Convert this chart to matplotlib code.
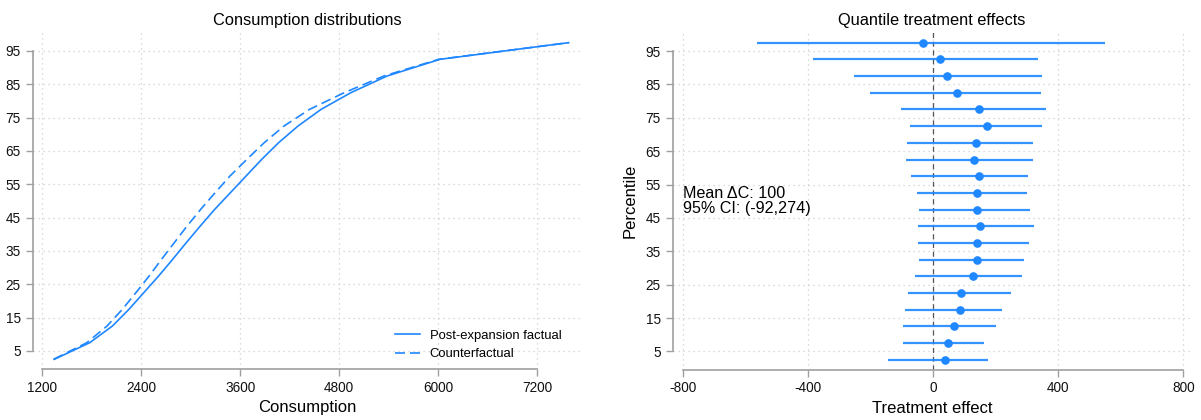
import numpy as np
import matplotlib
matplotlib.use('Agg')
import matplotlib.pyplot as plt

plt.rcParams['font.family'] = ['Liberation Sans', 'DejaVu Sans']
plt.rcParams['axes.unicode_minus'] = False

# percentiles (quantile levels)
pctiles = [2.5, 7.5, 12.5, 17.5, 22.5, 27.5, 32.5, 37.5, 42.5, 47.5,
           52.5, 57.5, 62.5, 67.5, 72.5, 77.5, 82.5, 87.5, 92.5, 97.5]

# left panel: consumption quantiles
factual = [1345, 1775, 2050, 2250, 2430, 2610, 2780, 2945, 3115, 3290,
           3480, 3670, 3860, 4065, 4300, 4580, 4940, 5380, 6020, 7580]
counterfactual = [1335, 1740, 1985, 2170, 2335, 2495, 2645, 2800, 2955, 3120,
                  3295, 3475, 3680, 3890, 4130, 4440, 4860, 5340, 6005, 7580]

# right panel: quantile treatment effects with 95% CI
qte = [36, 48, 66, 84, 88, 128, 140, 138, 149, 141,
       140, 145, 130, 136, 173, 146, 76, 43, 21, -32]
ci_lo = [-146, -96, -96, -92, -82, -59, -45, -50, -48, -47,
         -54, -71, -88, -84, -74, -104, -202, -253, -385, -563]
ci_hi = [176, 161, 200, 219, 249, 284, 289, 305, 322, 308,
         300, 302, 320, 317, 348, 361, 345, 348, 335, 549]

x_ticks_left = [1200, 2400, 3600, 4800, 6000, 7200]
x_ticks_right = [-800, -400, 0, 400, 800]
y_ticks = [5, 15, 25, 35, 45, 55, 65, 75, 85, 95]

blue = '#1f87ff'
spine_col = '#a0a0a0'
grid_col = '#cfcfcf'

W, H = 1201, 420
fig = plt.figure(figsize=(W / 100, H / 100), dpi=100)

def px_axes(x0, y0, x1, y1):
    return fig.add_axes([x0 / W, 1 - y1 / H, (x1 - x0) / W, (y1 - y0) / H])

def style(ax, xticks):
    for s in ['top', 'right']:
        ax.spines[s].set_visible(False)
    for s in ['left', 'bottom']:
        ax.spines[s].set_color(spine_col)
        ax.spines[s].set_linewidth(1.2)
    ax.spines['left'].set_bounds(5, 95)
    ax.spines['bottom'].set_bounds(xticks[0], xticks[-1])
    ax.set_xticks(xticks)
    ax.set_yticks(y_ticks)
    ax.tick_params(axis='both', colors=spine_col, labelcolor='#111111',
                   length=5, width=1.0, labelsize=9.8)
    ax.grid(True, linestyle=(0, (1, 3)), color=grid_col, linewidth=0.9)
    ax.set_axisbelow(True)

# ---- left panel
ax1 = px_axes(32.5, 32, 582, 369)
style(ax1, x_ticks_left)
ax1.set_xlim(1081, 7742)
ax1.set_ylim(-0.4, 100.7)
ax1.plot(factual, pctiles, color=blue, lw=1.2, label='Post-expansion factual')
ax1.plot(counterfactual, pctiles, color=blue, lw=1.2, ls=(0, (6, 3)),
         label='Counterfactual')
ax1.set_title('Consumption distributions', fontsize=11.8, pad=5)
ax1.set_xlabel('Consumption', fontsize=12, labelpad=4)
ax1.legend(loc='lower right', bbox_to_anchor=(0.972, 0.01), frameon=False,
           fontsize=9.4, handlelength=1.9, handletextpad=0.75, borderaxespad=0,
           labelspacing=0.5)

# ---- right panel
ax2 = px_axes(672.7, 32, 1191, 369.5)
style(ax2, x_ticks_right)
ax2.set_xlim(-834, 824)
ax2.set_ylim(-0.4, 100.7)
ax2.axvline(0, color='#555555', lw=0.9, ls=(0, (4, 3)), zorder=1)
ax2.hlines(pctiles, ci_lo, ci_hi, color=blue, lw=1.6, alpha=0.9, zorder=2)
ax2.plot(qte, pctiles, 'o', color=blue, ms=5.2, zorder=3)
ax2.text(-800, 50, 'Mean \u0394C: 100\n95% CI: (-92,274)', fontsize=11.6,
         ha='left', va='center', linespacing=1.0)
ax2.set_title('Quantile treatment effects', fontsize=11.8, pad=5)
ax2.set_xlabel('Treatment effect', fontsize=12, labelpad=4)
ax2.set_ylabel('Percentile', fontsize=12, labelpad=6)

fig.savefig('out.png', dpi=100)
